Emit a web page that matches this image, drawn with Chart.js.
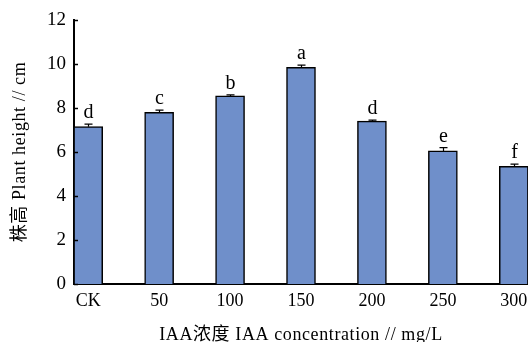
<!DOCTYPE html>
<html>
<head>
<meta charset="utf-8">
<script src="https://cdn.jsdelivr.net/npm/chart.js@4.4.1/dist/chart.umd.min.js"></script>
<style>
  html, body { margin: 0; padding: 0; background: #ffffff; }
  #wrap { width: 528px; height: 342px; }
</style>
</head>
<body>
<div id="wrap"><canvas id="c" width="528" height="342"></canvas></div>
<script>
// IAA concentration treatments (mg/L)
const categories = ['CK', '50', '100', '150', '200', '250', '300'];
// Mean plant height (cm)
const heights = [7.15, 7.8, 8.55, 9.85, 7.4, 6.05, 5.35];
// Standard error (cm)
const errors = [0.12, 0.1, 0.05, 0.1, 0.05, 0.15, 0.1];
// Significance letters
const letters = ['d', 'c', 'b', 'a', 'd', 'e', 'f'];
// Y axis ticks
const yTicks = [0, 2, 4, 6, 8, 10, 12];
// Axis titles
const xTitle = 'IAA浓度 IAA concentration // mg/L';
const yTitle = '株高 Plant height // cm';

const SERIF = "'Liberation Serif', 'Noto Sans CJK SC', serif";

const annotate = {
  id: 'annotate',
  afterDatasetsDraw(chart) {
    const ctx = chart.ctx;
    const x = chart.scales.x, y = chart.scales.y;
    ctx.save();
    // inward tick marks on the value axis
    ctx.strokeStyle = '#000';
    ctx.lineWidth = 1.5;
    yTicks.forEach(v => {
      const py = Math.round(y.getPixelForValue(v)) + 0.5;
      ctx.beginPath();
      ctx.moveTo(x.left, py);
      ctx.lineTo(x.left + 4, py);
      ctx.stroke();
    });
    // error bars and letters
    heights.forEach((h, i) => {
      const cx = Math.round(x.getPixelForValue(i)) + 0.5;
      const top = y.getPixelForValue(h);
      const etop = y.getPixelForValue(h + errors[i]);
      ctx.lineWidth = 1.2;
      ctx.beginPath();
      ctx.moveTo(cx, top);
      ctx.lineTo(cx, etop);
      ctx.moveTo(cx - 4, etop);
      ctx.lineTo(cx + 4, etop);
      ctx.stroke();
      ctx.fillStyle = '#000';
      ctx.font = '20px ' + SERIF;
      ctx.textAlign = 'center';
      ctx.textBaseline = 'alphabetic';
      ctx.fillText(letters[i], cx, etop - 6);
    });
    // axis titles
    ctx.font = '18px ' + SERIF;
    ctx.letterSpacing = '0.6px';
    ctx.textAlign = 'center';
    ctx.textBaseline = 'middle';
    ctx.fillText(xTitle, (x.left + x.right) / 2, 335);
    ctx.translate(20, (y.top + y.bottom) / 2);
    ctx.rotate(-Math.PI / 2);
    ctx.fillText(yTitle, 0, 0);
    ctx.restore();
  }
};

new Chart(document.getElementById('c'), {
  type: 'bar',
  data: {
    datasets: [{
      data: heights.map((h, i) => ({ x: i, y: h })),
      backgroundColor: '#6F8FCA',
      borderColor: '#000000',
      borderWidth: 1.5,
      barThickness: 29
    }]
  },
  options: {
    responsive: false,
    animation: false,
    devicePixelRatio: 1,
    layout: { padding: { top: 20, right: 0, left: 0, bottom: 0 } },
    plugins: { legend: { display: false }, tooltip: { enabled: false } },
    scales: {
      x: {
        type: 'linear',
        offset: false,
        min: -0.2,
        max: 6.2,
        afterBuildTicks: s => { s.ticks = categories.map((_, i) => ({ value: i })); },
        afterFit: s => { s.height = 58; s.paddingLeft = 0; s.paddingRight = 0; },
        grid: { display: false, drawTicks: false },
        border: { display: true, color: '#000', width: 2 },
        ticks: {
          autoSkip: false,
          maxRotation: 0,
          padding: 6,
          color: '#000',
          font: { family: SERIF, size: 18 },
          callback: v => categories[v]
        }
      },
      y: {
        min: 0,
        max: 12,
        afterBuildTicks: s => { s.ticks = yTicks.map(v => ({ value: v })); },
        afterFit: s => { s.width = 74; },
        grid: { display: false, drawTicks: false },
        border: { display: true, color: '#000', width: 2 },
        ticks: {
          padding: 8,
          color: '#000',
          font: { family: SERIF, size: 19 }
        }
      }
    }
  },
  plugins: [annotate]
});
</script>
</body>
</html>
